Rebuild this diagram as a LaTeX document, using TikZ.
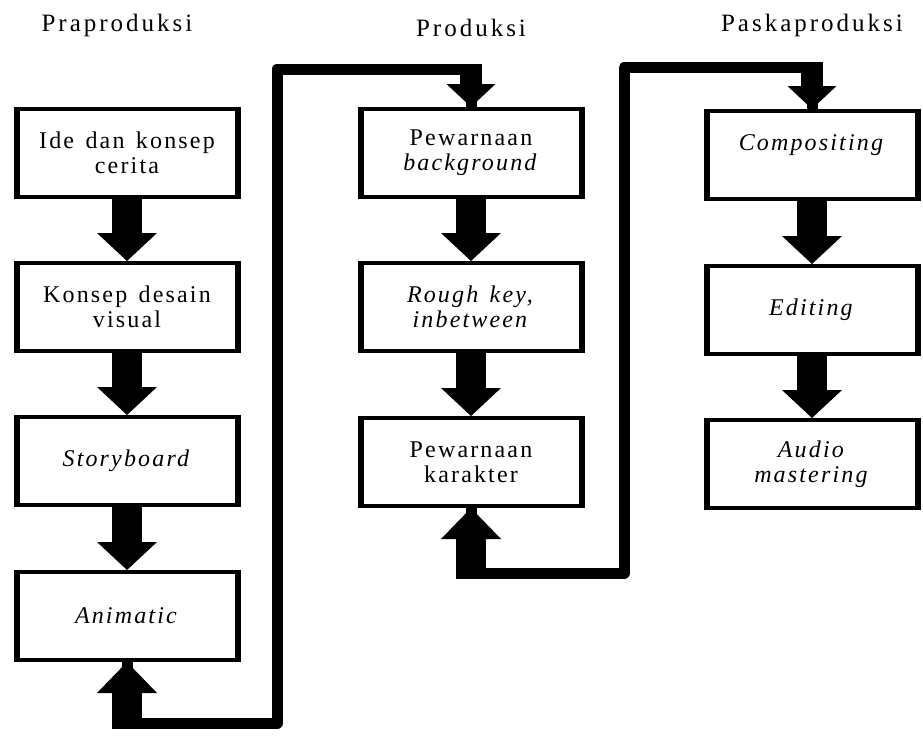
\documentclass[tikz,border=0pt]{standalone}
\usepackage{fontspec}
\setmainfont{Liberation Serif}
\newfontfamily\boxfont[LetterSpace=9,WordSpace=1.4]{Liberation Serif}
\newfontfamily\headfont[LetterSpace=12]{Liberation Serif}
\usetikzlibrary{arrows.meta}

\begin{document}
\begin{tikzpicture}[x=0.5pt,y=-0.5pt,
 stage/.style={draw,line width=2pt,minimum width=111.5pt,minimum height=44pt,
  inner sep=0pt,align=center,font=\fontsize{12}{12.5}\selectfont\boxfont},
 narrow/.style={stage,minimum width=106.5pt},
 head/.style={font=\fontsize{12.5}{14}\selectfont\headfont},
 side/.style={line width=3pt},
 flow/.style={line width=15pt,-{Triangle[length=14pt,width=30pt,line width=0pt]}},
 rise/.style={line width=15pt,-{Triangle[length=15.5pt,width=30pt,line width=0pt]}},
 drop/.style={line width=11pt,-{Triangle[length=11.5pt,width=24.5pt,line width=0pt]}},
 link/.style={line width=5.5pt,line join=round}]
\path[use as bounding box] (0,0) rectangle (923,751);
% stage titles
\node[head] (pra) at (117,25) {Praproduksi};
\node[head] (pro) at (471,28) {Produksi};
\node[head] (pasca) at (812,25) {Paskaproduksi};
% Praproduksi
\node[stage] (idea) at (127,153) {Ide dan konsep\\cerita};
\node[stage] (visual) at (127,307) {Konsep desain\\visual};
\node[stage] (story) at (127,461) {\textit{Storyboard}};
\node[stage] (anim) at (127,616) {\textit{Animatic}};
% Produksi
\node[stage] (bgr) at (471,153) {Pewarnaan\\\textit{background}};
\node[stage] (rough) at (471,307) {\textit{Rough key,}\\\textit{inbetween}};
\node[stage] (kar) at (471,462) {Pewarnaan\\karakter};
% Paskaproduksi
\node[narrow] (comp) at (812,155) {\textit{Compositing}\\\mbox{}};
\node[narrow] (edit) at (812,310) {\textit{Editing}};
\node[narrow] (audio) at (812,464) {\textit{Audio}\\\textit{mastering}};
% heavier left and right sides
\foreach \n in {idea,visual,story,anim,bgr,rough,kar,comp,edit,audio}
  \draw[side] ([xshift=1.5pt]\n.north west) -- ([xshift=1.5pt]\n.south west)
    ([xshift=-1.5pt]\n.north east) -- ([xshift=-1.5pt]\n.south east);
\foreach \a/\b in {idea/visual,visual/story,story/anim,bgr/rough,rough/kar,comp/edit,edit/audio}
  \draw[flow] (\a.south) -- (\b.north);
% Praproduksi to Produksi
\coordinate (k1) at (277,723);
\coordinate (top1) at (0,69);
\coordinate (low1) at (0,728.5);
\coordinate (cap1) at (0,63.5);
\draw[link] (anim.south) |- (k1) |- (bgr.north |- top1) -- (bgr.north);
\draw[rise] (anim.south |- low1) -- (anim.south);
\draw[drop] (bgr.north |- cap1) -- (bgr.north);
% Produksi to Paskaproduksi
\coordinate (k2) at (624,573);
\coordinate (top2) at (0,67.5);
\coordinate (low2) at (0,578.5);
\coordinate (cap2) at (0,62);
\draw[link] (kar.south) |- (k2) |- (comp.north |- top2) -- (comp.north);
\draw[rise] (kar.south |- low2) -- (kar.south);
\draw[drop] (comp.north |- cap2) -- (comp.north);
\end{tikzpicture}
\end{document}
